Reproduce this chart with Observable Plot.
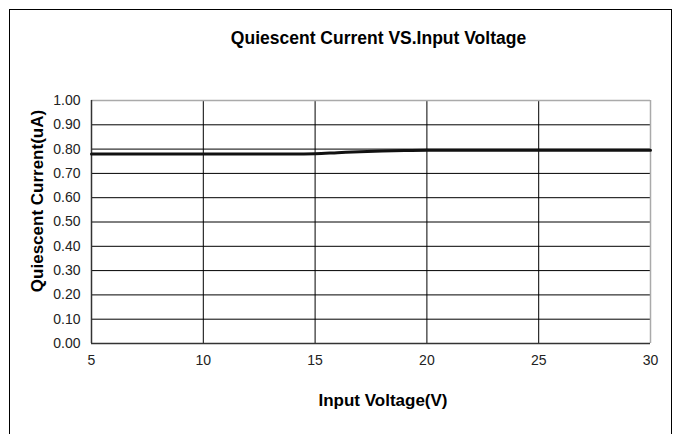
<!DOCTYPE html>
<html>
<head>
<meta charset="utf-8">
<script src="https://cdn.jsdelivr.net/npm/d3@7"></script>
<script src="https://cdn.jsdelivr.net/npm/@observablehq/plot@0.6"></script>
<style>
  html, body { margin: 0; padding: 0; background: #fff; }
  #wrap { position: relative; width: 676px; height: 434px; overflow: hidden; }
  #frame { position: absolute; left: 9px; top: 9px; width: 663px; height: 440px; border: 1.5px solid #000; box-sizing: border-box; pointer-events: none; }
  svg { font-family: "Liberation Sans", Arial, sans-serif; }
</style>
</head>
<body>
<div id="wrap"><div id="frame"></div></div>
<script>
const title = "Quiescent Current VS.Input Voltage";
const xLabel = "Input Voltage(V)";
const yLabel = "Quiescent Current(uA)";
const voltage = [5, 10, 14, 15, 16, 17, 18, 19, 20, 25, 30];
const current = [0.780, 0.780, 0.780, 0.781, 0.785, 0.789, 0.792, 0.794, 0.795, 0.795, 0.795];
const xTicks = [5, 10, 15, 20, 25, 30];
const yTicks = [0, 0.1, 0.2, 0.3, 0.4, 0.5, 0.6, 0.7, 0.8, 0.9, 1.0];

const data = voltage.map((v, i) => ({v, c: current[i]}));

const chart = Plot.plot({
  width: 676,
  height: 434,
  marginLeft: 91,
  marginRight: 26,
  marginTop: 100,
  marginBottom: 91,
  style: {fontFamily: "'Liberation Sans', Arial, sans-serif", background: "transparent"},
  x: {domain: [5, 30], ticks: xTicks, label: null},
  y: {domain: [0, 1], ticks: yTicks, label: null},
  marks: [
    Plot.ruleX(xTicks.slice(1, -1), {stroke: "#000", strokeWidth: 1}),
    Plot.ruleY(yTicks.slice(1, -1), {stroke: "#000", strokeWidth: 1}),
    Plot.ruleY([1], {stroke: "#aaa", strokeWidth: 1.5}),
    Plot.ruleX([30], {stroke: "#aaa", strokeWidth: 1.5}),
    Plot.ruleX([5], {stroke: "#333", strokeWidth: 1.5}),
    Plot.ruleY([0], {stroke: "#333", strokeWidth: 1.5}),
    Plot.line(data, {x: "v", y: "c", stroke: "#111", strokeWidth: 3, curve: "monotone-x"}),
    Plot.axisX({ticks: xTicks, tickSize: 0, tickPadding: 12, fontSize: 14, color: "#222", label: null}),
    Plot.axisY({ticks: yTicks, tickSize: 0, tickPadding: 11, fontSize: 14, color: "#222", tickFormat: d3.format(".2f"), label: null}),
    Plot.text([title], {frameAnchor: "top", lineAnchor: "middle", textAnchor: "middle", dy: -62, dx: 7.5, fontSize: 17.5, fontWeight: "bold", fill: "#000"}),
    Plot.text([xLabel], {frameAnchor: "bottom", lineAnchor: "middle", textAnchor: "middle", dy: 57, dx: 12, fontSize: 17, fontWeight: "bold", fill: "#000"}),
    Plot.text([yLabel], {frameAnchor: "left", lineAnchor: "middle", textAnchor: "middle", dx: -54, dy: -21, rotate: -90, fontSize: 17, fontWeight: "bold", fill: "#000"})
  ]
});
document.getElementById("wrap").prepend(chart);
</script>
</body>
</html>
